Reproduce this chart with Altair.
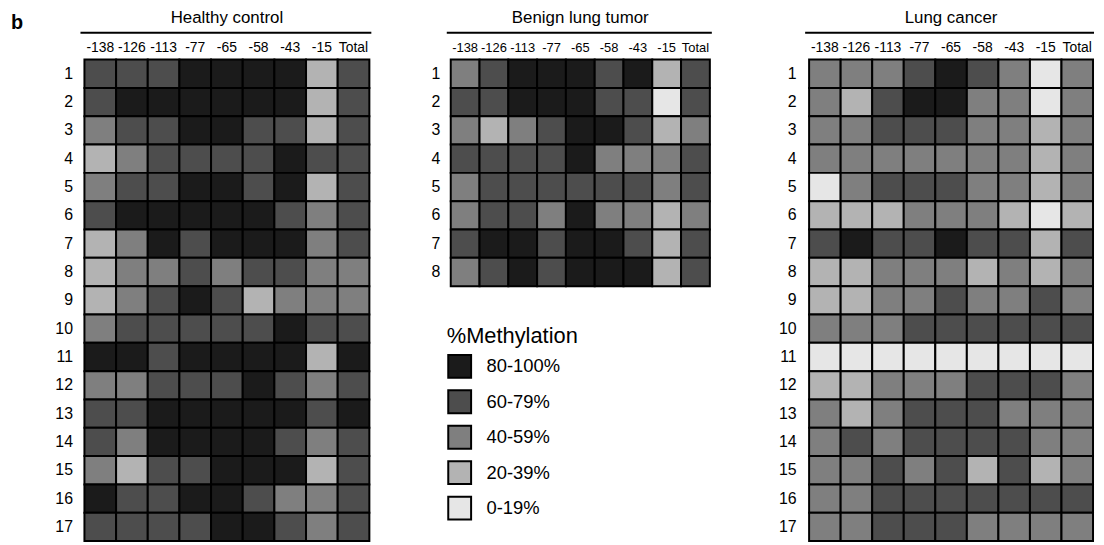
import altair as alt
import pandas as pd

FONT = "Liberation Sans"

positions = ["-138", "-126", "-113", "-77", "-65", "-58", "-43", "-15", "Total"]
levels = ["80-100%", "60-79%", "40-59%", "20-39%", "0-19%"]
level_colors = ["#1b1b1b", "#4d4d4d", "#7f7f7f", "#b3b3b3", "#e6e6e6"]

# methylation class per cell: 4 = 80-100%, 3 = 60-79%, 2 = 40-59%, 1 = 20-39%, 0 = 0-19%
healthy = [
    [3, 3, 3, 4, 4, 4, 4, 1, 3],
    [3, 4, 4, 4, 4, 4, 4, 1, 3],
    [2, 3, 3, 4, 4, 3, 3, 1, 3],
    [1, 2, 3, 3, 3, 3, 4, 3, 3],
    [2, 3, 3, 4, 4, 3, 4, 1, 3],
    [3, 4, 4, 4, 4, 4, 3, 2, 3],
    [1, 2, 4, 3, 4, 4, 4, 2, 3],
    [1, 2, 2, 3, 2, 3, 3, 2, 2],
    [1, 2, 3, 4, 3, 1, 2, 2, 2],
    [2, 3, 3, 3, 3, 3, 4, 3, 3],
    [4, 4, 3, 4, 4, 4, 4, 1, 4],
    [2, 2, 3, 3, 3, 4, 3, 2, 3],
    [3, 3, 4, 4, 4, 4, 4, 3, 4],
    [3, 2, 4, 4, 4, 4, 3, 2, 3],
    [2, 1, 3, 3, 4, 4, 4, 1, 3],
    [4, 3, 3, 4, 4, 3, 2, 2, 3],
    [3, 3, 3, 3, 4, 4, 3, 2, 3],
]

benign = [
    [2, 3, 4, 4, 4, 3, 4, 1, 3],
    [3, 3, 4, 4, 4, 3, 3, 0, 3],
    [2, 1, 2, 3, 4, 4, 3, 1, 2],
    [3, 3, 3, 3, 4, 2, 2, 2, 3],
    [2, 3, 3, 3, 3, 3, 3, 2, 3],
    [2, 3, 3, 2, 4, 2, 2, 1, 2],
    [3, 4, 4, 3, 4, 4, 3, 1, 3],
    [2, 3, 4, 3, 4, 4, 4, 1, 3],
]

cancer = [
    [2, 2, 2, 3, 4, 3, 2, 0, 2],
    [2, 1, 3, 4, 4, 2, 2, 0, 2],
    [2, 2, 3, 3, 3, 2, 2, 1, 2],
    [2, 2, 2, 2, 2, 2, 2, 1, 2],
    [0, 2, 3, 3, 3, 2, 2, 1, 2],
    [1, 1, 1, 2, 2, 2, 1, 0, 1],
    [3, 4, 3, 3, 4, 3, 3, 1, 3],
    [1, 1, 2, 2, 2, 1, 2, 1, 2],
    [1, 1, 2, 2, 3, 2, 2, 3, 2],
    [2, 2, 2, 3, 3, 3, 3, 3, 3],
    [0, 0, 0, 0, 0, 0, 0, 0, 0],
    [1, 1, 2, 2, 2, 3, 3, 3, 2],
    [2, 1, 2, 3, 3, 3, 2, 2, 2],
    [2, 3, 2, 3, 3, 3, 3, 2, 2],
    [2, 2, 3, 2, 3, 1, 3, 1, 2],
    [2, 2, 3, 3, 3, 3, 3, 3, 3],
    [2, 2, 3, 3, 3, 2, 2, 2, 2],
]

ROW_H = 28.53


def to_df(grid):
    rows = []
    for i, r in enumerate(grid, start=1):
        for p, v in zip(positions, r):
            rows.append({"row": i, "pos": p, "level": levels[4 - v]})
    return pd.DataFrame(rows)


legend = alt.Legend(
    orient="none", legendX=365, legendY=268,
    title="%Methylation", titleFont=FONT, titleFontSize=22, titleFontWeight="normal",
    titleColor="black", titlePadding=6,
    symbolType="square", symbolSize=530, symbolStrokeColor="black",
    symbolStrokeWidth=2, symbolOpacity=1,
    labelFont=FONT, labelFontSize=18.5, labelColor="black", labelOffset=14,
    rowPadding=3.7, padding=0,
)


def panel(grid, name, width, label_pad, col_font=14, line_right=2, with_b=False):
    n = len(grid)
    height = n * ROW_H
    df = to_df(grid)
    heat = alt.Chart(df).mark_rect(stroke="black", strokeWidth=2).encode(
        x=alt.X("pos:N", sort=positions, title=None,
                scale=alt.Scale(paddingInner=0, paddingOuter=0),
                axis=alt.Axis(orient="top", domain=False, ticks=False, labelAngle=0,
                              labelPadding=5, labelFontSize=col_font, labelFont=FONT,
                              labelColor="black")),
        y=alt.Y("row:O", title=None,
                scale=alt.Scale(paddingInner=0, paddingOuter=0),
                axis=alt.Axis(domain=False, ticks=False, labelPadding=label_pad,
                              labelFontSize=16, labelFont=FONT, labelColor="black")),
        color=alt.Color("level:N", scale=alt.Scale(domain=levels, range=level_colors),
                        legend=legend),
    )
    tdf = pd.DataFrame({"t": [name]})
    line = alt.Chart(tdf).mark_rule(stroke="black", strokeWidth=2).encode(
        x=alt.value(-4), x2=alt.value(width + line_right), y=alt.value(-27))
    title = alt.Chart(tdf).mark_text(font=FONT, fontSize=17, baseline="middle",
                                     align="center", color="black").encode(
        x=alt.value(width / 2), y=alt.value(-42), text="t:N")
    layers = [heat, line, title]
    if with_b:
        bdf = pd.DataFrame({"t": ["b"]})
        b = alt.Chart(bdf).mark_text(font=FONT, fontSize=20, fontWeight="bold",
                                     baseline="middle", align="left",
                                     color="black").encode(
            x=alt.value(-74), y=alt.value(-37), text="t:N")
        layers.append(b)
    return alt.layer(*layers).properties(width=width, height=height)


h = panel(healthy, "Healthy control", 287, 12, with_b=True)
bn = panel(benign, "Benign lung tumor", 261, 11, col_font=13)
lc = panel(cancer, "Lung cancer", 286, 13, line_right=1)

chart = alt.hconcat(alt.hconcat(h, bn, spacing=57), lc, spacing=64).properties(
    padding={"left": 2, "top": -2, "right": 0, "bottom": 0}
).configure_view(stroke=None).configure(background="white")

chart.save("out.html", embed_options={"renderer": "svg", "actions": False})
